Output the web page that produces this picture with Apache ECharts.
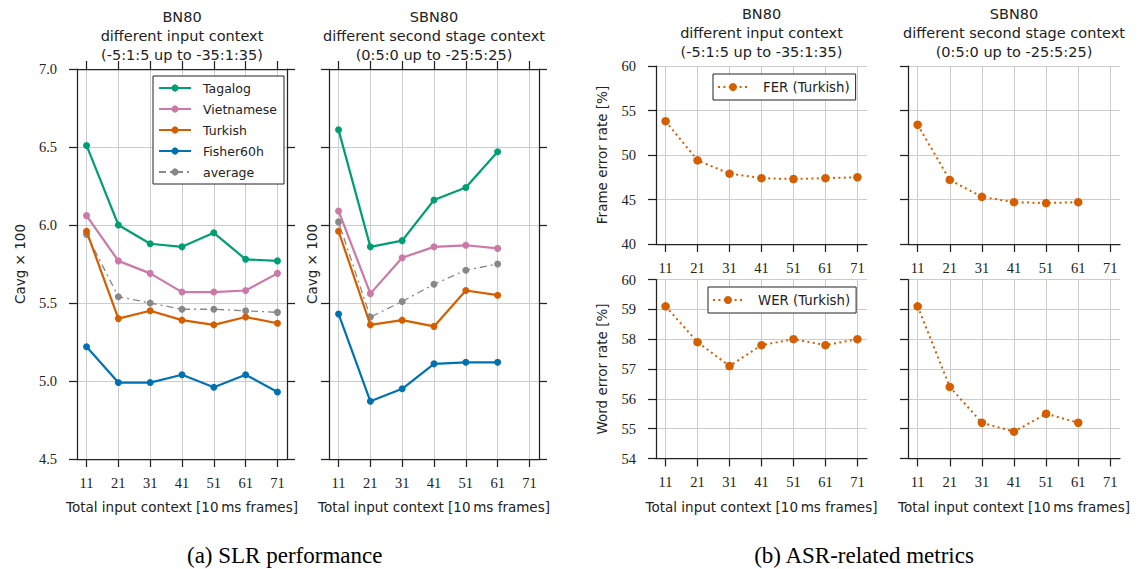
<!DOCTYPE html>
<html>
<head>
<meta charset="utf-8">
<script src="https://cdn.jsdelivr.net/npm/echarts@6/dist/echarts.min.js"></script>
<style>
html,body{margin:0;padding:0;background:#fff;}
#chart{width:1139px;height:569px;}
</style>
</head>
<body>
<div id="chart"></div>
<script>
// ---------- data ----------
const contextBN = [11, 21, 31, 41, 51, 61, 71];
const contextSBN = [11, 21, 31, 41, 51, 61];
const xTicks = [11, 21, 31, 41, 51, 61, 71];

const bnTagalog    = [6.51, 6.00, 5.88, 5.86, 5.95, 5.78, 5.77];
const bnVietnamese = [6.06, 5.77, 5.69, 5.57, 5.57, 5.58, 5.69];
const bnTurkish    = [5.96, 5.40, 5.45, 5.39, 5.36, 5.41, 5.37];
const bnFisher     = [5.22, 4.99, 4.99, 5.04, 4.96, 5.04, 4.93];
const bnAverage    = [5.94, 5.54, 5.50, 5.46, 5.46, 5.45, 5.44];

const sbnTagalog    = [6.61, 5.86, 5.90, 6.16, 6.24, 6.47];
const sbnVietnamese = [6.09, 5.56, 5.79, 5.86, 5.87, 5.85];
const sbnTurkish    = [5.96, 5.36, 5.39, 5.35, 5.58, 5.55];
const sbnFisher     = [5.43, 4.87, 4.95, 5.11, 5.12, 5.12];
const sbnAverage    = [6.02, 5.41, 5.51, 5.62, 5.71, 5.75];

const ferBN  = [53.8, 49.4, 47.9, 47.4, 47.3, 47.4, 47.5];
const ferSBN = [53.4, 47.2, 45.3, 44.7, 44.6, 44.7];
const werBN  = [59.1, 57.9, 57.1, 57.8, 58.0, 57.8, 58.0];
const werSBN = [59.1, 56.4, 55.2, 54.9, 55.5, 55.2];

const panelTitles = [
  ['BN80', 'different input context', '(-5:1:5 up to -35:1:35)'],
  ['SBN80', 'different second stage context', '(0:5:0 up to -25:5:25)']
];
const captions = ['(a) SLR performance', '(b) ASR-related metrics'];

// ---------- style ----------
const SANS = '"DejaVu Sans", "Liberation Sans", sans-serif';
const SERIF = '"Liberation Serif", "Times New Roman", serif';
const INK = '#222222';
const GRIDC = '#cccccc';
const C = {Tagalog:'#009E73', Vietnamese:'#CC79A7', Turkish:'#D55E00', Fisher60h:'#0072B2', average:'#888888'};

const chart = echarts.init(document.getElementById('chart'), null, {renderer:'svg'});

const grids = [
  {left:77,  top:69,    width:210, height:390},
  {left:329, top:69,    width:210, height:390},
  {left:656, top:66,    width:211, height:178},
  {left:908, top:66,    width:212, height:178},
  {left:656, top:279.5, width:211, height:179},
  {left:908, top:279.5, width:212, height:179}
].map(g => Object.assign({outerBoundsMode:'none', containLabel:false}, g));

function xAx(grid, pos, showLabel, name) {
  return {
    type:'value', gridIndex:grid, position:pos, min:8, max:74,
    axisLine:{show:true, onZero:false, lineStyle:{color:INK, width:1.25}},
    axisTick:{show:true, inside:false, length:8, customValues:xTicks, lineStyle:{color:INK, width:1.25}},
    axisLabel:{show:showLabel, customValues:xTicks, margin:16, fontFamily:SERIF, fontSize:14.5, color:INK},
    splitLine:{show:pos === 'bottom', lineStyle:{color:GRIDC, width:1}},
    name:name || '', nameLocation:'middle', nameGap:41,
    nameTextStyle:{fontFamily:SANS, fontSize:13.5, color:INK}
  };
}
function yAx(grid, pos, min, max, interval, showLabel, name, nameGap, dec) {
  return {
    type:'value', gridIndex:grid, position:pos, min:min, max:max, interval:interval,
    axisLine:{show:true, onZero:false, lineStyle:{color:INK, width:1.25}},
    axisTick:{show:true, inside:false, length:8, lineStyle:{color:INK, width:1.25}},
    axisLabel:{show:showLabel, margin:20, fontFamily:SERIF, fontSize:14.5, color:INK,
               formatter: v => v.toFixed(dec)},
    splitLine:{show:pos === 'left', lineStyle:{color:GRIDC, width:1}},
    name:name || '', nameLocation:'middle', nameGap:nameGap || 0,
    nameTextStyle:{fontFamily:SANS, fontSize:13.5, color:INK}
  };
}

const xName = 'Total input context [10\u2009ms frames]';
const xAxes = [
  xAx(0, 'bottom', true, xName), xAx(0, 'top', false),
  xAx(1, 'bottom', true, xName), xAx(1, 'top', false),
  xAx(2, 'bottom', true), xAx(3, 'bottom', true),
  xAx(4, 'bottom', true, xName), xAx(5, 'bottom', true, xName)
];
const yAxes = [
  yAx(0, 'left', 4.5, 7, 0.5, true, 'Cavg \u00d7 100', 50, 1), yAx(0, 'right', 4.5, 7, 0.5, false, '', 0, 1),
  yAx(1, 'left', 4.5, 7, 0.5, false, 'Cavg \u00d7 100', 10, 1), yAx(1, 'right', 4.5, 7, 0.5, false, '', 0, 1),
  yAx(2, 'left', 40, 60, 5, true, 'Frame error rate [%]', 47, 0),
  yAx(3, 'left', 40, 60, 5, false, '', 0, 0),
  yAx(4, 'left', 54, 60, 1, true, 'Word error rate [%]', 47, 0),
  yAx(5, 'left', 54, 60, 1, false, '', 0, 0)
];

function pts(xs, ys) { return xs.map((x, i) => [x, ys[i]]); }
function slr(name, xs, ys, ax) {
  const avg = name === 'average';
  return {
    type:'line', name:name, xAxisIndex:ax, yAxisIndex:ax, data:pts(xs, ys),
    symbol:'circle', symbolSize:7, showSymbol:true, animation:false,
    z: avg ? 1 : 2,
    itemStyle:{color:C[name], borderWidth:0},
    lineStyle: avg ? {color:C[name], width:1.3, type:[7,4,2,4]} : {color:C[name], width:2.2},
    emphasis:{disabled:true}
  };
}
function asr(name, xs, ys, ax) {
  return {
    type:'line', name:name, xAxisIndex:ax, yAxisIndex:ax, data:pts(xs, ys),
    symbol:'circle', symbolSize:8.5, animation:false,
    itemStyle:{color:'#D55E00', borderWidth:0},
    lineStyle:{color:'#D55E00', width:2, type:[2,3.4], cap:'butt'},
    emphasis:{disabled:true}
  };
}

const series = [
  slr('average', contextBN, bnAverage, 0),
  slr('Tagalog', contextBN, bnTagalog, 0),
  slr('Vietnamese', contextBN, bnVietnamese, 0),
  slr('Turkish', contextBN, bnTurkish, 0),
  slr('Fisher60h', contextBN, bnFisher, 0),
  slr('average', contextSBN, sbnAverage, 2),
  slr('Tagalog', contextSBN, sbnTagalog, 2),
  slr('Vietnamese', contextSBN, sbnVietnamese, 2),
  slr('Turkish', contextSBN, sbnTurkish, 2),
  slr('Fisher60h', contextSBN, sbnFisher, 2),
  asr('FER (Turkish)', contextBN, ferBN, 4),
  asr('FER (Turkish)', contextSBN, ferSBN, 5),
  asr('WER (Turkish)', contextBN, werBN, 6),
  asr('WER (Turkish)', contextSBN, werSBN, 7)
];

const legendBase = {
  orient:'vertical', borderColor:INK, borderWidth:1, borderRadius:0, backgroundColor:'#fff',
  selectedMode:false, z:10
};
const legends = [
  Object.assign({}, legendBase, {
    data:['Tagalog', 'Vietnamese', 'Turkish', 'Fisher60h', 'average'],
    left:153, top:76, padding:[5, 7, 5, 5], itemWidth:32, itemHeight:9, itemGap:7,
    textStyle:{fontFamily:SANS, fontSize:12.5, color:INK, lineHeight:14, padding:[0, 0, 0, 7]}
  }),
  Object.assign({}, legendBase, {
    data:['FER (Turkish)'], left:713, top:74, padding:[6, 6, 6, 4], itemWidth:30, itemHeight:10,
    textStyle:{fontFamily:SANS, fontSize:13.3, color:INK, lineHeight:14, padding:[0, 0, 0, 10]}
  }),
  Object.assign({}, legendBase, {
    data:['WER (Turkish)'], left:708, top:287, padding:[6, 6, 6, 4], itemWidth:30, itemHeight:10,
    textStyle:{fontFamily:SANS, fontSize:13.3, color:INK, lineHeight:14, padding:[0, 0, 0, 10]}
  })
];

// titles & captions as text elements
const titleCenters = [182, 434, 761.5, 1014];
const titleRows = [[16.7, 35.5, 55], [16.7, 35.5, 55], [14, 33.3, 52.3], [14, 33.3, 52.3]];
const graphics = [];
titleCenters.forEach((cx, p) => {
  const lines = panelTitles[p % 2];
  lines.forEach((t, i) => graphics.push({
    type:'text', x:cx, y:titleRows[p][i], silent:true,
    style:{text:t, fill:INK, font:'14.5px ' + SANS, textAlign:'center', textVerticalAlign:'middle'}
  }));
});
[[284.7, captions[0]], [864, captions[1]]].forEach(([cx, t]) => graphics.push({
  type:'text', x:cx, y:555, silent:true,
  style:{text:t, fill:'#000', font:'23px ' + SERIF, textAlign:'center', textVerticalAlign:'middle'}
}));

chart.setOption({
  animation:false,
  backgroundColor:'#fff',
  grid:grids,
  xAxis:xAxes,
  yAxis:yAxes,
  legend:legends,
  series:series,
  graphic:graphics
});
</script>
</body>
</html>
